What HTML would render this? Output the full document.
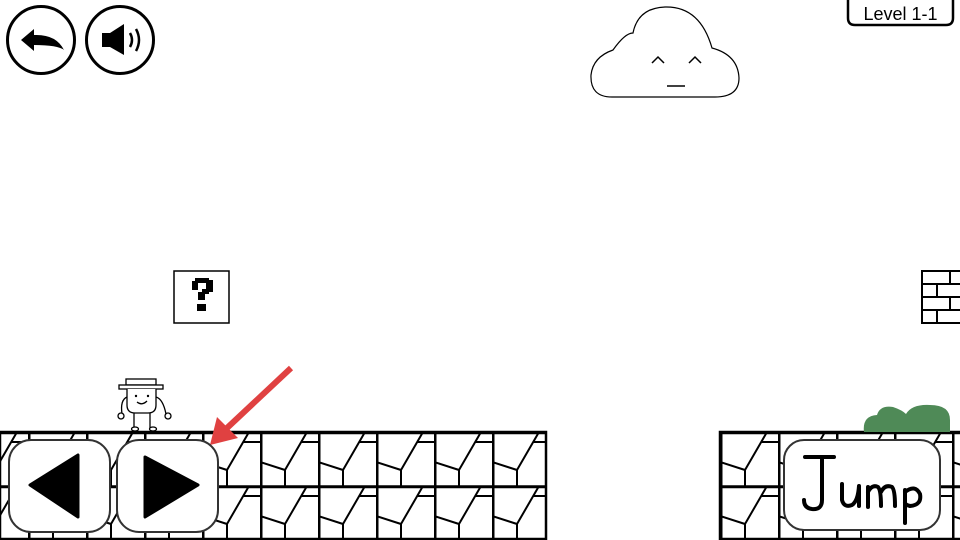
<!DOCTYPE html>
<html><head><meta charset="utf-8"><style>
html,body{margin:0;padding:0;background:#fff;width:960px;height:540px;overflow:hidden}
svg{display:block}
</style></head><body>
<svg width="960" height="540" viewBox="0 0 960 540" xmlns="http://www.w3.org/2000/svg">
<defs>
<pattern id="tileL" x="28" y="432" width="58" height="54" patternUnits="userSpaceOnUse">
<rect width="58" height="54" fill="#fff"/>
<g stroke="#000" fill="none" stroke-width="2">
<path d="M47 0 L25 38 L25 54 M25 38 L0 30 M41 10 L58 10"/>
</g>
<path d="M1 0V54" stroke="#000" stroke-width="3"/>
<path d="M0 1H58" stroke="#000" stroke-width="2.5"/>
</pattern>
<pattern id="tileR" x="720" y="432" width="58" height="54" patternUnits="userSpaceOnUse">
<rect width="58" height="54" fill="#fff"/>
<g stroke="#000" fill="none" stroke-width="2">
<path d="M47 0 L25 38 L25 54 M25 38 L0 30 M41 10 L58 10"/>
</g>
<path d="M1 0V54" stroke="#000" stroke-width="3"/>
<path d="M0 1H58" stroke="#000" stroke-width="2.5"/>
</pattern>
</defs>

<rect x="0" y="432" width="546" height="107" fill="url(#tileL)" stroke="#000" stroke-width="2.5"/>
<path d="M0 486.5H546" stroke="#000" stroke-width="2.5"/>
<rect x="720" y="432" width="242" height="107" fill="url(#tileR)" stroke="#000" stroke-width="2.5"/>
<path d="M720 486.5H960" stroke="#000" stroke-width="2.5"/>

<circle cx="41" cy="40" r="33.5" fill="#fff" stroke="#000" stroke-width="3"/>
<path d="M21 40 L34 29 L34 35 Q56 34 64 50 Q58 45 34 45 L34 51 Z" fill="#000"/>
<circle cx="120" cy="40" r="33.5" fill="#fff" stroke="#000" stroke-width="3"/>
<path d="M102 33 H110 L124 24 V55 L110 47 H102 Z" fill="#000"/>
<path d="M130 33 Q134 40 130 47" stroke="#000" stroke-width="2.5" fill="none"/>
<path d="M136 29 Q142 40 136 51" stroke="#000" stroke-width="2.5" fill="none"/>

<path d="M612 97 Q590 97 591 75 Q593 57 613 50 Q625 33 633 33 Q638 8 665 7 Q700 6 712 48 Q738 55 739 78 Q739 97 715 97 Z" fill="#fff" stroke="#000" stroke-width="1.2"/>
<path d="M652 63 L658 57 L664 63 M689 63 L695 57 L701 63" stroke="#000" stroke-width="1.5" fill="none"/>
<path d="M667 86 H685" stroke="#000" stroke-width="1.5"/>

<path d="M848 0 V18 Q848 25 855 25 H946 Q953 25 953 18 V0" fill="#fff" stroke="#000" stroke-width="2.5"/>
<text x="900.5" y="20" text-anchor="middle" font-family="Liberation Sans, sans-serif" font-size="18" fill="#000">Level 1-1</text>

<rect x="174" y="271" width="55" height="52" fill="#fff" stroke="#000" stroke-width="1.5"/>
<g fill="#000">
<rect x="192" y="281" width="6" height="9"/>
<rect x="195" y="278" width="14" height="5"/>
<rect x="206" y="280" width="7" height="12"/>
<rect x="202" y="289" width="7" height="5"/>
<rect x="198" y="292" width="7" height="8"/>
<rect x="197" y="304" width="9" height="7"/>
</g>

<g stroke="#000" fill="#fff">
<rect x="922" y="271" width="40" height="52" stroke-width="2"/>
<path d="M922 284 H962 M922 297 H962 M922 310 H962" stroke-width="2"/>
<path d="M950 271 V284 M937 284 V297 M950 297 V310 M937 310 V323" stroke-width="2"/>
</g>

<g stroke="#000" fill="#fff" stroke-width="1.3">
<rect x="126" y="379" width="30" height="6"/>
<rect x="119" y="385" width="44" height="4"/>
<path d="M127 389 V405 Q127 413 135 413 H148 Q156 413 156 405 V389"/>
<path d="M127 397 Q120 400 122 414" fill="none"/>
<path d="M156 397 Q163 399 166 414" fill="none"/>
<circle cx="121" cy="416" r="3"/>
<circle cx="168" cy="416" r="3"/>
<path d="M134 413 V428 M150 413 V428" fill="none"/>
<ellipse cx="135" cy="429" rx="3.5" ry="2"/>
<ellipse cx="153" cy="429" rx="3.5" ry="2"/>
</g>
<circle cx="136" cy="396" r="1.2" fill="#000"/>
<circle cx="148" cy="396" r="1.2" fill="#000"/>
<path d="M137 402 Q142 406 147 401" stroke="#000" fill="none" stroke-width="1.3"/>

<path d="M864 432 Q862 416 877 415 Q880 405 893 407 Q902 410 906 414 Q912 404 930 405 Q950 405 950 420 V432 Z" fill="#4f8a57"/>

<path d="M291 368 L227 428" stroke="#e04141" stroke-width="6" stroke-linecap="butt"/>
<path d="M210 445 L217 417 L238 438 Z" fill="#e04141"/>

<rect x="9" y="440" width="101" height="92" rx="22" fill="#fff" stroke="#333" stroke-width="2"/>
<path d="M30 485 L78 455 L78 517 Z" fill="#000" stroke="#000" stroke-width="3" stroke-linejoin="round"/>
<rect x="117" y="440" width="101" height="92" rx="22" fill="#fff" stroke="#333" stroke-width="2"/>
<path d="M145 457 L198 485 L145 517 Z" fill="#000" stroke="#000" stroke-width="3" stroke-linejoin="round"/>

<rect x="784" y="440" width="156" height="90" rx="20" fill="#fff" stroke="#333" stroke-width="2"/>
<g stroke="#000" stroke-width="4" fill="none" stroke-linecap="round" stroke-linejoin="round">
<path d="M805 457 H834 M822 457 V500 Q822 510 812 509 Q804 508 804 500"/>
<path d="M842 484 V500 Q844 508 852 505 Q858 501 859 486 V506"/>
<path d="M868 507 V487 M868 492 Q872 484 878 487 Q881 490 881 506 M881 492 Q885 484 892 487 Q895 490 895 506"/>
<path d="M905 490 V523 M905 492 Q915 484 920 494 Q922 505 910 506 Q906 505 905 503"/>
</g>
</svg>
</body></html>
